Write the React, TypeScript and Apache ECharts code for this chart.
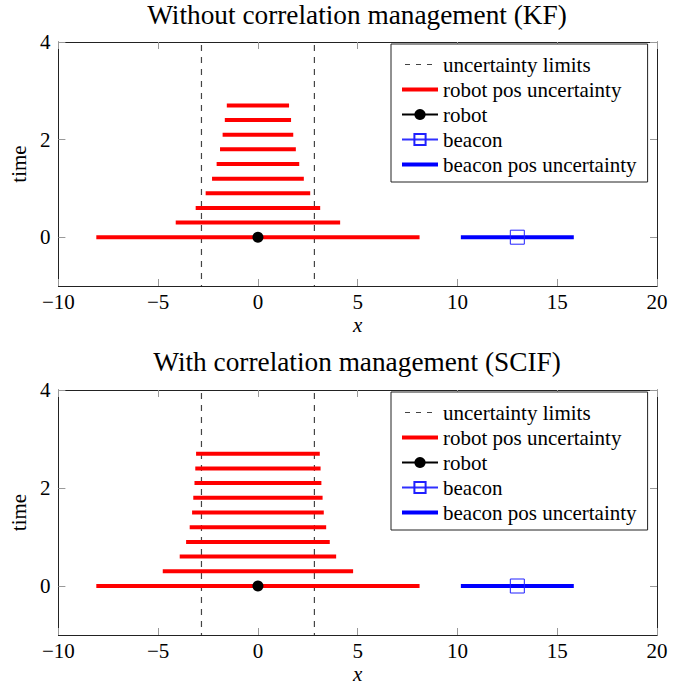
import React, { useEffect, useRef } from "react";
import * as echarts from "echarts";

const titles = ["Without correlation management (KF)", "With correlation management (SCIF)"];
const legendNames = [
  "uncertainty limits",
  "robot pos uncertainty",
  "robot",
  "beacon",
  "beacon pos uncertainty",
];
const times = [0, 0.3, 0.6, 0.9, 1.2, 1.5, 1.8, 2.1, 2.4, 2.7];
const kfHalfWidths = [8.1, 4.12, 3.12, 2.62, 2.3, 2.07, 1.9, 1.77, 1.66, 1.56];
const scifHalfWidths = [8.1, 4.77, 3.92, 3.6, 3.42, 3.3, 3.24, 3.18, 3.14, 3.1];
const uncertaintyLimit = 2.83;
const robotPos = [0, 0];
const beaconPos = [13, 0];
const beaconHalfWidth = 2.83;
const xTicks = [-10, -5, 0, 5, 10, 15, 20];
const yTicks = [0, 2, 4];
const xRange = [-10, 20];
const yRange = [-1, 4];

const FONT = "Liberation Serif";
const HIDDEN = "rgba(0,0,0,0)";

function fmt(v: number) {
  return v < 0 ? "\u2212" + Math.abs(v) : String(v);
}

function buildSeries(idx: number, halfWidths: number[]) {
  const s: any[] = [];
  const ax = { xAxisIndex: idx * 2, yAxisIndex: idx * 2 };
  [-uncertaintyLimit, uncertaintyLimit].forEach((x) => {
    s.push({
      type: "line",
      name: legendNames[0],
      ...ax,
      data: [
        [x, yRange[1]],
        [x, yRange[0]],
      ],
      symbol: "none",
      lineStyle: { color: "#444", width: 1.2, type: [6, 6], dashOffset: -3 },
      itemStyle: { color: HIDDEN, borderWidth: 0 },
      z: 2,
    });
  });
  times.forEach((t, i) => {
    const w = halfWidths[i];
    s.push({
      type: "line",
      name: legendNames[1],
      ...ax,
      data: [
        [-w, t],
        [w, t],
      ],
      symbol: "none",
      lineStyle: { color: "#ff0000", width: 4, cap: "butt" },
      itemStyle: { color: HIDDEN, borderWidth: 0 },
      z: 3,
    });
  });
  s.push({
    type: "line",
    name: legendNames[2],
    ...ax,
    data: [robotPos],
    symbol: "circle",
    symbolSize: 11,
    lineStyle: { color: "#000", width: 1 },
    itemStyle: { color: "#000" },
    z: 5,
  });
  s.push({
    type: "line",
    name: legendNames[3],
    ...ax,
    data: [beaconPos],
    symbol: "rect",
    symbolSize: 14,
    lineStyle: { color: "#3030ff", width: 1 },
    itemStyle: { color: HIDDEN, borderColor: "#2020ff", borderWidth: 1 },
    z: 5,
  });
  s.push({
    type: "line",
    name: legendNames[4],
    ...ax,
    data: [
      [beaconPos[0] - beaconHalfWidth, beaconPos[1]],
      [beaconPos[0] + beaconHalfWidth, beaconPos[1]],
    ],
    symbol: "none",
    lineStyle: { color: "#0000ff", width: 4, cap: "butt" },
    itemStyle: { color: HIDDEN, borderWidth: 0 },
    z: 4,
  });
  return s;
}

export default function App() {
  const ref = useRef<HTMLDivElement>(null);
  useEffect(() => {
    document.body.style.margin = "0";
    const chart = echarts.init(ref.current!, null, { renderer: "svg" });
    const grids = [
      { left: 57, top: 42, width: 600, height: 244 },
      { left: 57, top: 390, width: 600, height: 245 },
    ];
    const axisLine = { show: true, onZero: false, lineStyle: { color: "#222", width: 1 } };
    const tick = (vals: number[]) => ({
      show: true,
      inside: true,
      length: 7,
      customValues: vals,
      lineStyle: { color: "#999", width: 1 },
    });
    const labelStyle = { fontFamily: FONT, fontSize: 21, color: "#000" };
    const xAxes: any[] = [];
    const yAxes: any[] = [];
    grids.forEach((g, i) => {
      xAxes.push({
        type: "value",
        gridIndex: i,
        position: "bottom",
        min: xRange[0],
        max: xRange[1],
        interval: 5,
        axisLine,
        axisTick: tick(xTicks),
        splitLine: { show: false },
        axisLabel: {
          customValues: xTicks,
          formatter: (v: number) => fmt(v),
          ...labelStyle,
          margin: 5,
        },
        name: "x",
        nameLocation: "middle",
        nameGap: 28,
        nameTextStyle: { ...labelStyle, fontStyle: "italic" },
      });
      xAxes.push({
        type: "value",
        gridIndex: i,
        position: "top",
        min: xRange[0],
        max: xRange[1],
        interval: 5,
        axisLine,
        axisTick: tick(xTicks),
        splitLine: { show: false },
        axisLabel: { show: false },
      });
      yAxes.push({
        type: "value",
        gridIndex: i,
        position: "left",
        min: yRange[0],
        max: yRange[1],
        axisLine,
        axisTick: tick(yTicks),
        splitLine: { show: false },
        axisLabel: {
          customValues: yTicks,
          formatter: (v: number) => fmt(v),
          ...labelStyle,
          margin: 8,
        },
        name: "time",
        nameLocation: "middle",
        nameRotate: 90,
        nameGap: 25,
        nameTextStyle: { ...labelStyle },
      });
      yAxes.push({
        type: "value",
        gridIndex: i,
        position: "right",
        min: yRange[0],
        max: yRange[1],
        axisLine,
        axisTick: tick(yTicks),
        splitLine: { show: false },
        axisLabel: { show: false },
      });
    });
    const legendData = legendNames.map((name, i) => {
      if (i === 1) return { name, lineStyle: { width: 4, color: "#ff0000" } };
      if (i === 4) return { name, lineStyle: { width: 4, color: "#0000ff" } };
      if (i === 0) return { name, lineStyle: { width: 1.2, color: "#444", type: [5, 6] } };
      return { name };
    });
    const legendBase = {
      orient: "vertical",
      left: 391,
      data: legendData,
      selectedMode: false,
      backgroundColor: "#fff",
      borderColor: "#222",
      borderWidth: 1,
      borderRadius: 0,
      padding: [10, 11, 7, 9],
      itemWidth: 36,
      itemHeight: 14,
      itemGap: 4,
      textStyle: { fontFamily: FONT, fontSize: 21, color: "#000", lineHeight: 21 },
    };
    chart.setOption({
      animation: false,
      title: titles.map((t, i) => ({
        text: t,
        left: 357,
        textAlign: "center",
        top: i === 0 ? 1 : 348,
        padding: 0,
        textStyle: { fontFamily: FONT, fontSize: 27.3, fontWeight: "normal", color: "#000" },
      })),
      grid: grids,
      xAxis: xAxes,
      yAxis: yAxes,
      legend: [
        { ...legendBase, top: 44 },
        { ...legendBase, top: 392 },
      ],
      series: [...buildSeries(0, kfHalfWidths), ...buildSeries(1, scifHalfWidths)],
    });
    return () => chart.dispose();
  }, []);
  return <div ref={ref} style={{ width: 694, height: 687 }} />;
}
